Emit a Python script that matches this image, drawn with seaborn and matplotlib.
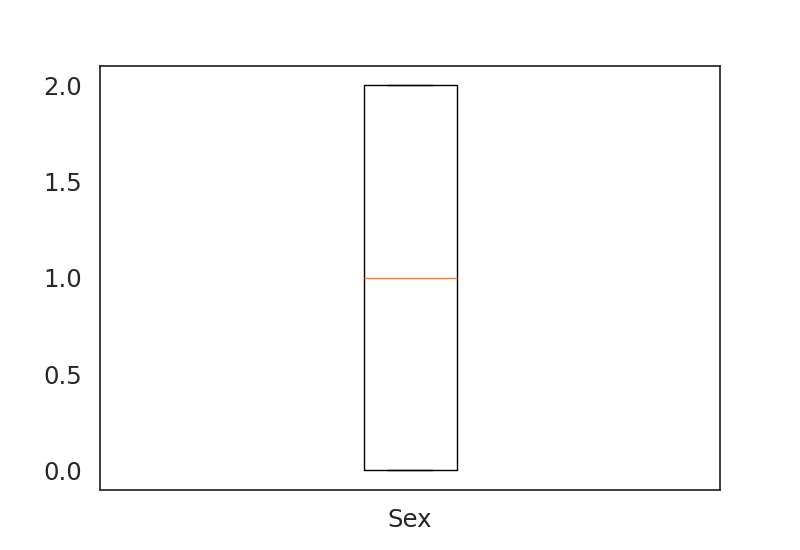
import pandas as pd
import matplotlib
matplotlib.use("Agg")
import matplotlib.pyplot as plt
import seaborn as sns

# values of the Sex column (0/1/2 coded)
sex_values = [0, 0, 1, 2, 2]
column_name = "Sex"

data = pd.DataFrame({column_name: sex_values})

sns.set(style="white", font_scale=1.6,
        rc={"xtick.major.pad": 7, "ytick.major.pad": 7})

plt.figure(figsize=(8, 5.5), dpi=100)
plt.boxplot(data[column_name], tick_labels=[column_name])
plt.savefig("out.png", dpi=100)
